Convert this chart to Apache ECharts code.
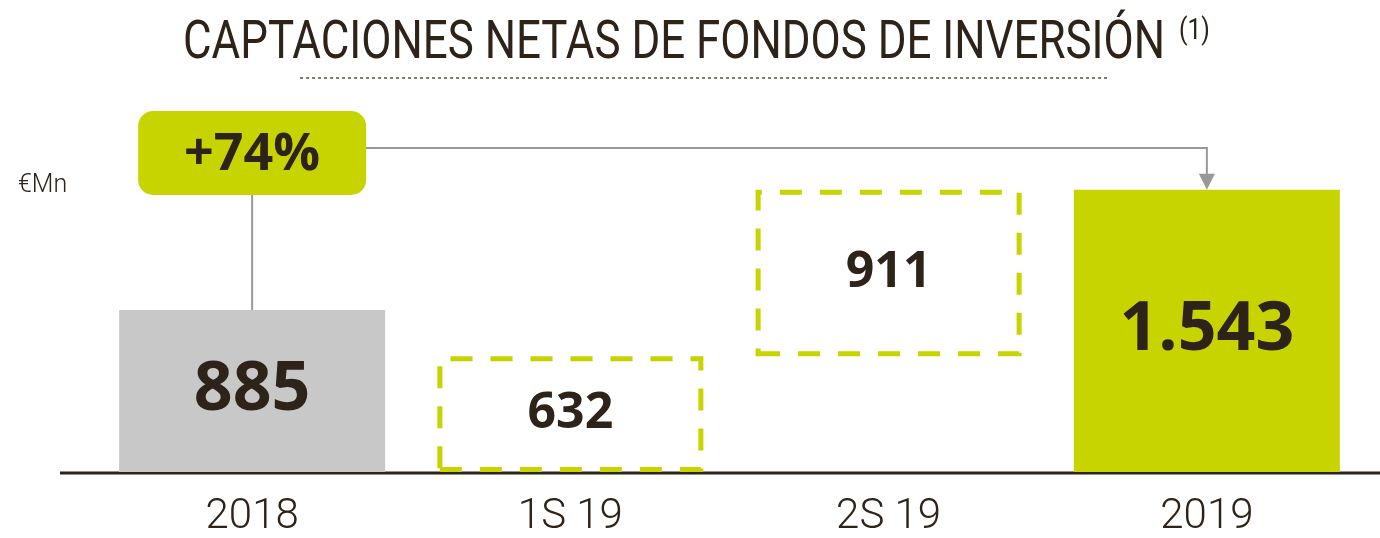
<!DOCTYPE html>
<html><head><meta charset="utf-8">
<script src="https://cdn.jsdelivr.net/npm/echarts@6/dist/echarts.min.js"></script>
<style>html,body{margin:0;padding:0;background:#fff}#c{width:1380px;height:538px}</style>
</head><body><div id="c"></div>
<script>
const categories = ['2018', '1S 19', '2S 19', '2019'];
const baseValues = [0, 0, 632, 0];
const values = [885, 632, 911, 1543];
const valueLabels = ['885', '632', '911', '1.543'];
const growthLabel = '+74%';
const unitLabel = '€Mn';
const titleText = 'CAPTACIONES NETAS DE FONDOS DE INVERSIÓN';

const DARK = '#2d2318', GREEN = '#c8d400', GREY = '#c8c8c8', LINE = '#999999';
const chart = echarts.init(document.getElementById('c'));

const styles = [
  {itemStyle:{color:GREY}, label:{fontSize:68}},
  {itemStyle:{color:'rgba(0,0,0,0)', borderColor:GREEN, borderWidth:5, borderType:[22,18]}, label:{fontSize:50}},
  {itemStyle:{color:'rgba(0,0,0,0)', borderColor:GREEN, borderWidth:5, borderType:[22,18]}, label:{fontSize:50}},
  {itemStyle:{color:GREEN}, label:{fontSize:68}}
];

chart.setOption({
  animation:false,
  grid:{left:93, right:14, top:106, bottom:64},
  xAxis:{type:'category', data:categories,
    axisLine:{show:false}, axisTick:{show:false},
    axisLabel:{color:DARK, fontSize:42, fontFamily:'Roboto', fontWeight:300, margin:24}},
  yAxis:{type:'value', min:0, max:2000, show:false, splitLine:{show:false}},
  series:[
    {type:'bar', stack:'w', barWidth:266, silent:true,
     itemStyle:{color:'rgba(0,0,0,0)'}, data:baseValues},
    {type:'bar', stack:'w', barWidth:266,
     label:{show:true, position:'inside', color:DARK, fontFamily:'Open Sans', fontWeight:'bold',
       formatter:p=>valueLabels[p.dataIndex]},
     data:values.map((v,i)=>Object.assign({value:v}, styles[i]))}
  ]
});

// title width fitting (condensed look)
const titleFont = '53px Roboto';
const ctx = document.createElement('canvas').getContext('2d');
ctx.font = titleFont;
const tw = ctx.measureText(titleText).width;
const titleScale = 982 / tw;

const p0 = chart.convertToPixel({gridIndex:0}, [0, 0]);
const pTop0 = chart.convertToPixel({gridIndex:0}, [0, values[0]]);
const pTop3 = chart.convertToPixel({gridIndex:0}, [3, values[3]]);
const bx = pTop0[0], boxW = 228, boxH = 84, boxTop = 111, lineY = 148;
chart.setOption({graphic:[
  {type:'line', shape:{x1:60, y1:p0[1]+1, x2:1380, y2:p0[1]+1}, style:{stroke:DARK, lineWidth:3}},
  {type:'text', x:183, y:45, scaleX:titleScale, originX:0, style:{text:titleText, font:titleFont, fill:DARK, verticalAlign:'middle'}},
  {type:'text', x:1179, y:32, scaleX:0.85, originX:0, style:{text:'(1)', font:'29px Roboto', fill:DARK, verticalAlign:'middle'}},
  {type:'line', shape:{x1:300, y1:78, x2:1110, y2:78}, style:{stroke:'#8b7a63', lineWidth:2, lineDash:[3,3]}},
  {type:'text', x:18, y:186, style:{text:unitLabel, font:'300 25px Roboto', fill:DARK, verticalAlign:'middle'}},
  {type:'line', shape:{x1:bx, y1:boxTop+boxH, x2:bx, y2:pTop0[1]}, style:{stroke:LINE, lineWidth:2}},
  {type:'polyline', shape:{points:[[bx+boxW/2-2, lineY],[pTop3[0], lineY],[pTop3[0], pTop3[1]-14]]}, style:{stroke:LINE, lineWidth:2, fill:null}},
  {type:'polygon', shape:{points:[[pTop3[0]-8, pTop3[1]-16],[pTop3[0]+8, pTop3[1]-16],[pTop3[0], pTop3[1]]]}, style:{fill:LINE}},
  {type:'rect', shape:{x:bx-boxW/2, y:boxTop, width:boxW, height:boxH, r:15}, style:{fill:GREEN}},
  {type:'text', x:bx, y:boxTop+boxH/2+2, style:{text:growthLabel, font:'bold 52px "Open Sans"', fill:DARK, align:'center', verticalAlign:'middle'}}
]});
</script></body></html>
